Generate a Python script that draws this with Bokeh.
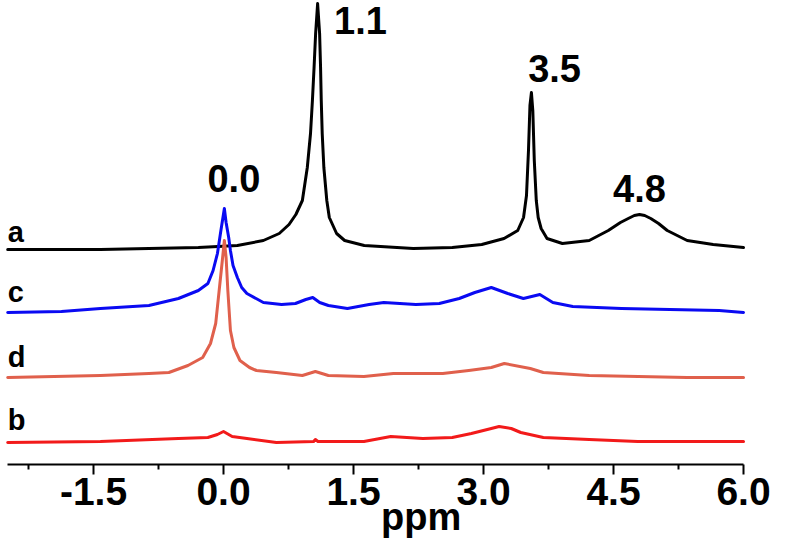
from bokeh.plotting import figure
from bokeh.models import Range1d, FixedTicker, Label, NumeralTickFormatter
from bokeh.embed import file_html
from bokeh.resources import INLINE

# ---- data (ppm, intensity above each trace's baseline) ----
PPM_A = [-2.49, -1.87, -1.42, -0.86, -0.29, 0.16, 0.46, 0.643, 0.756, 0.835,
         0.910, 0.967, 1.004, 1.026, 1.045, 1.063, 1.086, 1.109, 1.120, 1.128,
         1.139, 1.158, 1.192, 1.221, 1.305, 1.398, 1.624, 2.19, 2.64, 2.98,
         3.237, 3.395, 3.462, 3.496, 3.519, 3.536, 3.553, 3.569, 3.586, 3.609,
         3.631, 3.665, 3.733, 3.91, 4.22, 4.44, 4.58, 4.67, 4.74, 4.80,
         4.86, 4.93, 5.02, 5.12, 5.35, 5.65, 6.00]
INT_A = [-1, -1, -1, 0, 1, 3, 8, 15, 24, 34,
         48, 81, 115, 148, 181, 215, 245, 215, 181, 148,
         115, 81, 48, 31, 15, 8, 3, 0, 1, 4,
         10, 18, 31, 53, 98, 143, 156, 138, 88, 48,
         31, 20, 10, 5, 8, 18, 26, 30, 33, 34,
         33, 30, 25, 18, 8, 4, 1]

PPM_C = [-2.49, -1.87, -1.42, -0.86, -0.52, -0.29, -0.18, -0.12, -0.07, -0.03,
         0.01, 0.03, 0.06, 0.08, 0.11, 0.16, 0.21, 0.27, 0.46, 0.67,
         0.83, 0.95, 1.03, 1.11, 1.21, 1.43, 1.68, 1.85, 2.22, 2.49,
         2.72, 2.90, 3.09, 3.28, 3.46, 3.65, 3.80, 4.03, 4.59, 5.15,
         5.72, 6.00]
INT_C = [-1, 0, 3, 6, 13, 21, 28, 41, 58, 81,
         103, 89, 74, 61, 46, 34, 24, 18, 9, 7,
         8, 12, 14, 9, 6, 3, 7, 9, 7, 8,
         13, 19, 24, 18, 13, 17, 9, 5, 3, 2,
         1, -1]

PPM_D = [-2.49, -1.42, -0.86, -0.63, -0.41, -0.24, -0.15, -0.09, -0.05, -0.01,
         0.01, 0.03, 0.05, 0.08, 0.12, 0.19, 0.30, 0.38, 0.61, 0.91,
         1.06, 1.21, 1.62, 1.96, 2.53, 2.83, 3.09, 3.24, 3.54, 3.69,
         4.22, 5.35, 6.00]
INT_D = [-1, 1, 3, 4, 11, 19, 33, 53, 86, 119,
         136, 119, 86, 46, 29, 16, 9, 6, 4, 1,
         5, 1, 0, 3, 3, 6, 9, 13, 8, 4,
         1, -1, -1]

PPM_B = [-2.49, -1.42, -0.52, -0.18, -0.07, 0.00, 0.10, 0.27, 0.61, 1.04,
         1.06, 1.09, 1.62, 1.93, 2.30, 2.64, 2.86, 3.09, 3.18, 3.32,
         3.43, 3.69, 4.22, 4.78, 6.00]
INT_B = [-1, 0, 3, 4, 7, 10, 5, 3, -1, 0,
         2, 0, 0, 5, 3, 4, 8, 13, 15, 13,
         9, 4, 2, 0, 0]

TRACE_NAMES = ["a", "c", "d", "b"]
OFFSETS = [216, 153, 88, 23]
COLORS = ["#000000", "#0A0AF2", "#E0604C", "#F21A1A"]

PEAK_LABELS = ["0.0", "1.1", "3.5", "4.8"]

TICKS = [-1.5, 0.0, 1.5, 3.0, 4.5, 6.0]
TICK_LABELS = ["-1.5", "0.0", "1.5", "3.0", "4.5", "6.0"]
MINOR_TICKS = [-2.25, -0.75, 0.75, 2.25, 3.75, 5.25]
X_LABEL = "ppm"

FONT = "Liberation Sans"
X_START, X_END = -2.573, 6.323
AXIS_START = -2.49

p = figure(width=771, height=540, output_backend="svg", toolbar_location=None,
           x_range=Range1d(X_START, X_END), y_range=Range1d(-76, 464),
           min_border_left=0, min_border_right=0, min_border_top=0,
           min_border_bottom=0)
p.yaxis.visible = False
p.grid.visible = False
p.outline_line_color = None
p.background_fill_color = "white"
p.border_fill_color = "white"

series = [(PPM_A, INT_A), (PPM_C, INT_C), (PPM_D, INT_D), (PPM_B, INT_B)]
for (xs, ys), off, col in zip(series, OFFSETS, COLORS):
    p.line(xs, [v + off for v in ys], line_color=col, line_width=3,
           line_join="round", line_cap="round")

xa = p.xaxis[0]
xa.fixed_location = 0
xa.bounds = (AXIS_START, TICKS[-1])
xa.ticker = FixedTicker(ticks=TICKS, minor_ticks=MINOR_TICKS)
xa.formatter = NumeralTickFormatter(format="0.0")
xa.major_label_overrides = {t: l for t, l in zip(TICKS, TICK_LABELS)}
xa.axis_line_width = 2
xa.axis_line_color = "black"
xa.major_tick_line_width = 2
xa.minor_tick_line_width = 2
xa.major_tick_out = 10
xa.major_tick_in = 0
xa.minor_tick_out = 5
xa.minor_tick_in = 0
xa.major_label_standoff = 3
xa.major_label_text_font = FONT
xa.major_label_text_font_style = "bold"
xa.major_label_text_font_size = "39px"
xa.major_label_text_color = "black"

# trace letters
for name, off, ly in zip(TRACE_NAMES, OFFSETS, [17, 20, 20, 22]):
    p.add_layout(Label(x=AXIS_START, y=off + ly, text=name, text_font=FONT,
                       text_font_style="bold", text_font_size="29px",
                       text_align="left", text_baseline="alphabetic",
                       text_color="black"))

# peak labels
peak_pos = [(0.12, 286), (1.58, 444), (3.82, 396), (4.80, 276)]
for txt, (lx, ly) in zip(PEAK_LABELS, peak_pos):
    p.add_layout(Label(x=lx, y=ly, text=txt, text_font=FONT,
                       text_font_style="bold", text_font_size="38px",
                       text_align="center", text_baseline="alphabetic",
                       text_color="black"))

# axis title
p.add_layout(Label(x=2.28, y=-52, text=X_LABEL, text_font=FONT,
                   text_font_style="bold", text_font_size="38px",
                   text_align="center", text_baseline="alphabetic",
                   text_color="black"))

open("out.html", "w").write(file_html(p, INLINE))
